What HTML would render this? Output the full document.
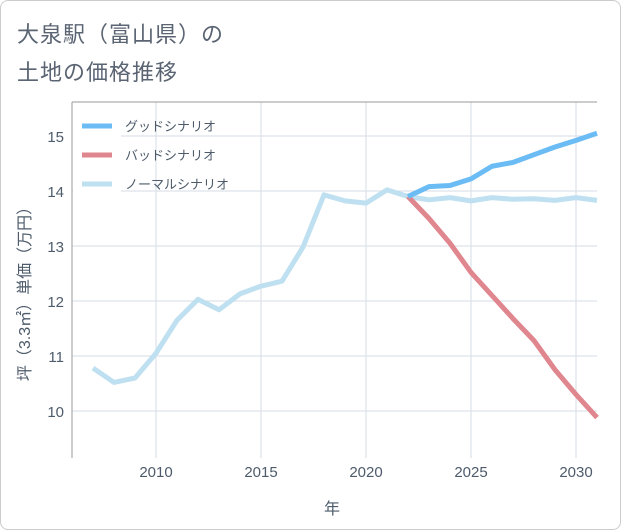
<!DOCTYPE html>
<html><head><meta charset="utf-8"><style>
body{margin:0;background:#fff;font-family:"Liberation Sans","Noto Sans CJK JP",sans-serif;}
#wrap{position:relative;width:619px;height:528px;border:1px solid #ccc;border-radius:8px;overflow:hidden;background:#fff}
.t{position:absolute;left:16px;font-size:22px;color:#5a6472;letter-spacing:1px}
</style></head><body>
<div id="wrap">
<div class="t" style="top:16px">大泉駅（富山県）の</div>
<div class="t" style="top:54px">土地の価格推移</div>
<svg id="chart" width="621" height="530" style="position:absolute;left:-1px;top:-1px"></svg>
</div>
<script>
const years=[2007,2008,2009,2010,2011,2012,2013,2014,2015,2016,2017,2018,2019,2020,2021,2022,2023,2024,2025,2026,2027,2028,2029,2030,2031];
const normalVals=[10.78,10.52,10.6,11.05,11.65,12.03,11.84,12.13,12.27,12.36,12.98,13.93,13.82,13.78,14.02,13.9,13.84,13.88,13.82,13.88,13.85,13.86,13.83,13.88,13.83];
const futureYears=[2022,2023,2024,2025,2026,2027,2028,2029,2030,2031];
const goodVals=[13.9,14.08,14.1,14.22,14.45,14.52,14.66,14.8,14.92,15.05];
const badVals=[13.9,13.5,13.05,12.52,12.1,11.68,11.28,10.75,10.3,9.88];
const xTicks=[2010,2015,2020,2025,2030];
const yTicks=[10,11,12,13,14,15];
const NS="http://www.w3.org/2000/svg";
const svg=document.getElementById('chart');
const L=72,R=597,T=102,B=458;
const TXT='#4d5b6b';
const x=v=>156+(v-2010)*21;
const y=v=>411-(v-10)*55;
function mk(tag,attrs){const e=document.createElementNS(NS,tag);for(const k in attrs)e.setAttribute(k,attrs[k]);svg.appendChild(e);return e;}
let e;
e=mk('rect',{x:L,y:T,width:R-L,height:B-T,fill:'#fff',stroke:'none'});

xTicks.forEach(t=>{e=mk('line',{x1:x(t),x2:x(t),y1:T,y2:B,stroke:'#d5dde6','stroke-width':1});

e=mk('text',{x:x(t),y:477,'text-anchor':'middle','font-size':15,fill:TXT});e.textContent=t;
});
yTicks.forEach(t=>{e=mk('line',{x1:L,x2:R,y1:y(t),y2:y(t),stroke:'#d5dde6','stroke-width':1});

e=mk('text',{x:64,y:y(t)+6,'text-anchor':'end','font-size':15,fill:TXT});e.textContent=t;
});
e=mk('line',{x1:L,x2:L,y1:T,y2:B,stroke:'#999','stroke-width':1});
e=mk('line',{x1:L,x2:R,y1:T,y2:T,stroke:'#999','stroke-width':1});
function line(xs,vs,color,name){const p=xs.map((v,i)=>(i?'L':'M')+x(v)+','+y(vs[i])).join(' ');
e=mk('path',{d:p,fill:'none',stroke:color,'stroke-width':5,'stroke-linejoin':'round','stroke-linecap':'butt'});
}
line(years,normalVals,'#bfe0f0','normal-scenario-line');
line(futureYears,badVals,'#e0868e','bad-scenario-line');
line(futureYears,goodVals,'#6bbcf5','good-scenario-line');
e=mk('rect',{x:L+1,y:T+8,width:48,height:88,fill:'#fff'});
const legend=[['グッドシナリオ','#6bbcf5'],['バッドシナリオ','#e0868e'],['ノーマルシナリオ','#bfe0f0']];
legend.forEach((l,i)=>{const yy=126+i*29;
e=mk('line',{x1:82,x2:112,y1:yy,y2:yy,stroke:l[1],'stroke-width':5});
e=mk('text',{x:125,y:yy+5,'font-size':13,fill:TXT});e.textContent=l[0];});
e=mk('text',{x:332,y:514,'text-anchor':'middle','font-size':16,fill:TXT});e.textContent='年';

e=mk('text',{x:0,y:0,'text-anchor':'middle','font-size':16,fill:TXT,transform:'translate(30,290) rotate(-90)'});e.textContent='坪（3.3㎡）単価（万円）';

</script>
</body></html>
